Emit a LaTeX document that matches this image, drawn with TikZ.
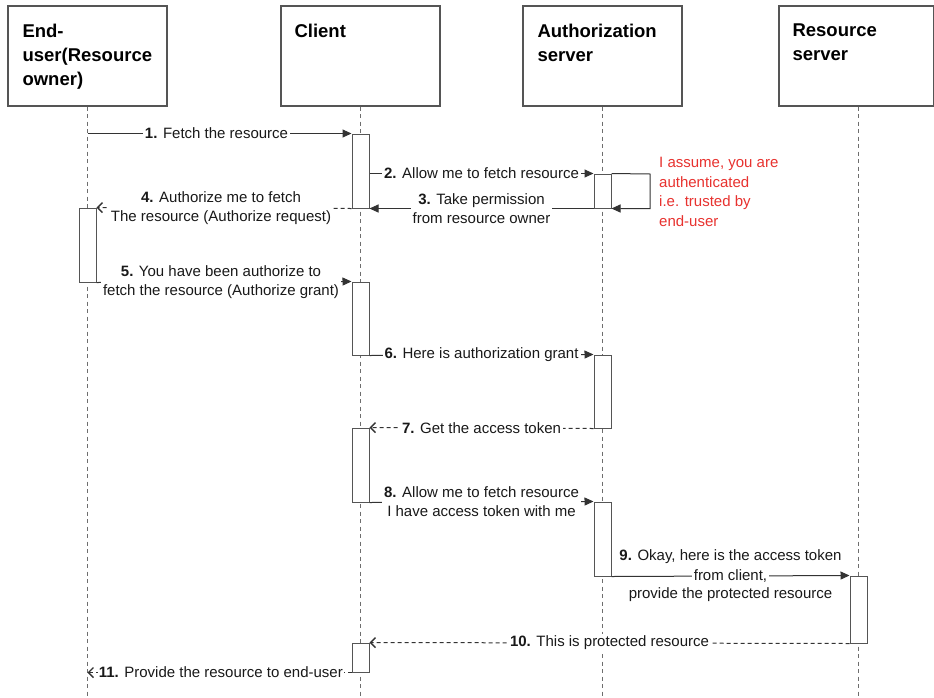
\documentclass[tikz,border=0pt]{standalone}
\usepackage{fontspec}
\setmainfont{Liberation Sans}
\usetikzlibrary{arrows.meta,calc}
\definecolor{ln}{HTML}{333333}
\definecolor{bx}{HTML}{555555}
\definecolor{lifec}{HTML}{6E6E6E}
\definecolor{note}{HTML}{E8322F}
\begin{document}
\begin{tikzpicture}[x=1pt,y=-1pt,
 actor/.style={draw=bx,line width=1.3pt,minimum height=100pt,inner sep=0pt,fill=white},
 title/.style={anchor=north west,align=left,font=\fontsize{18.5}{24}\selectfont\bfseries,inner sep=0pt},
 life/.style={draw=lifec,dash pattern=on 4pt off 3.5pt,line width=0.9pt},
 act/.style={draw=bx,line width=1pt,fill=white,minimum width=17pt,inner sep=0pt},
 msg/.style={draw=ln,line width=1pt,-{Triangle[length=9pt,width=8pt]}},
 ret/.style={draw=ln,line width=1pt,dash pattern=on 4pt off 3pt,-{Straight Barb[length=5pt,width=10pt,line width=1.4pt]}},
 lbl/.style={fill=white,font=\fontsize{15}{19}\selectfont,align=center,inner sep=2pt,text=black!90},
]
\useasboundingbox[fill=white] (0,0) rectangle (934,697);

% actor boxes
\node[actor,minimum width=159pt] (eu) at (87.5,56) {};
\node[actor,minimum width=159pt] (cl) at (360.5,56) {};
\node[actor,minimum width=159pt] (as) at (602.5,56) {};
\node[actor,minimum width=155pt] (rs) at (856.5,56) {};
\node[title] (eut) at ($(eu.north west)+(15,18.5)$) {End-\\user(Resource\\owner)};
\node[title] (clt) at ($(cl.north west)+(14,18.5)$) {Client};
\node[title] (ast) at ($(as.north west)+(15,18.5)$) {Authorization\\server};
\node[title] (rst) at ($(rs.north west)+(14,18.5)$) {Resource\\server};

% lifeline ends
\coordinate (eub) at (87.5,697);
\coordinate (clb) at (360.5,697);
\coordinate (asb) at (602.5,697);
\coordinate (rsb) at (858.5,697);
\draw[life] (eu.south) -- (eub);
\draw[life] (cl.south) -- (clb);
\draw[life] (as.south) -- (asb);
\draw[life] (rs.south -| rsb) -- (rsb);

% activation boxes
\node[act,minimum height=74pt] (c1) at (360.5,171) {};
\node[act,minimum height=34pt] (a1) at (602.5,191) {};
\node[act,minimum height=74pt] (e1) at (87.5,245) {};
\node[act,minimum height=73pt] (c2) at (360.5,318.5) {};
\node[act,minimum height=73pt] (a2) at (602.5,391.5) {};
\node[act,minimum height=74pt] (c3) at (360.5,465) {};
\node[act,minimum height=74pt] (a3) at (602.5,539) {};
\node[act,minimum height=67pt] (r1) at (858.5,609.5) {};
\node[act,minimum height=29pt] (c4) at (360.5,657.5) {};

% self loop corner
\coordinate (self) at (650,174);

% messages
\draw[msg] (e1 |- c1.north west) -- (c1.north west)
  node[lbl,midway,xshift=-3pt] (l1) {\textbf{1.} Fetch the resource};
\draw[msg] (c1.east |- a1.north) -- (a1.north west)
  node[lbl,midway] (l2) {\textbf{2.} Allow me to fetch resource};
\draw[msg] (a1.north east) -- (self) |- (a1.south east);
\draw[msg] (a1.south west) -- (c1.south east)
  node[lbl,midway] (l3) {\textbf{3.} Take permission\\from resource owner};
\draw[ret] (c1.south west) -- (e1.north east)
  node[lbl,midway,xshift=-3pt] (l4) {\textbf{4.} Authorize me to fetch\\The resource (Authorize request)};
\draw[msg] (e1.south east) -- (c2.north west)
  node[lbl,midway,xshift=-3pt] (l5) {\textbf{5.} You have been authorize to\\fetch the resource (Authorize grant)};
\draw[msg] (c2.south east) -- (a2.north west)
  node[lbl,midway] (l6) {\textbf{6.} Here is authorization grant};
\draw[ret] (a2.south west) -- (c3.north east)
  node[lbl,midway] (l7) {\textbf{7.} Get the access token};
\draw[msg] (c3.south east) -- (a3.north west)
  node[lbl,midway] (l8) {\textbf{8.} Allow me to fetch resource\\I have access token with me};
\draw[msg] (a3.south east) -- (r1.north west)
  node[lbl,midway] (l9) {from client,}
  node[lbl,midway,fill=none,yshift=19pt] (l9a) {\textbf{9.} Okay, here is the access token}
  node[lbl,midway,fill=none,yshift=-19pt] (l9b) {provide the protected resource};
\draw[ret] (r1.south west) -- (c4.north east)
  node[lbl,midway] (l10) {\textbf{10.} This is protected resource};
\draw[ret] (c4.south west) -- (e1 |- c4.south)
  node[lbl,pos=0.495,inner sep=1pt] (l11) {\textbf{11.} Provide the resource to end-user};

% note
\node[anchor=north west,align=left,inner sep=0pt,text=note,
  font=\fontsize{15}{19.5}\selectfont] (nt) at (659,157)
  {I assume, you are\\authenticated\\i.e. trusted by\\end-user};
\end{tikzpicture}
\end{document}
